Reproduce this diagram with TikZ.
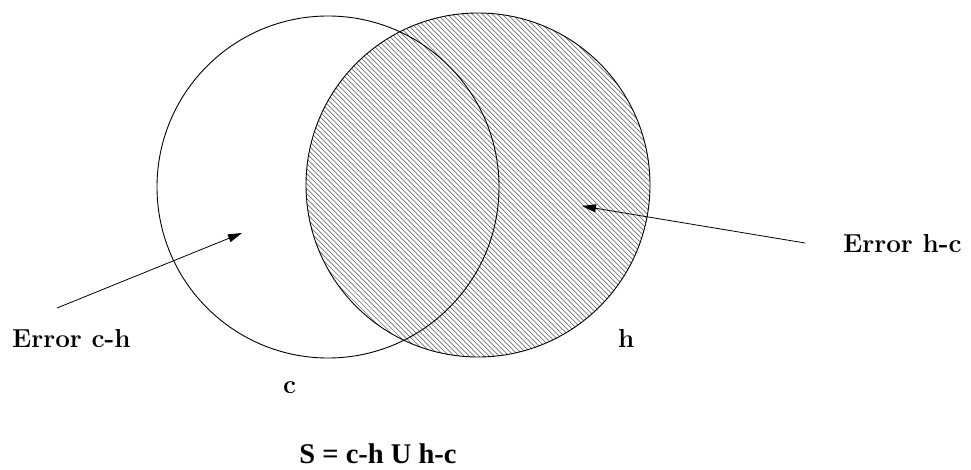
\documentclass[tikz,border=0pt]{standalone}
\usepackage{fontspec}
\newfontfamily\timesfam{Liberation Serif}
\usetikzlibrary{arrows.meta}
\begin{document}
\begin{tikzpicture}[x=1pt,y=-1pt,
  lbl/.style={font=\fontsize{26}{30}\selectfont\bfseries, inner sep=0pt, anchor=base west},
  formula/.style={font=\timesfam\fontsize{28.5}{32}\selectfont\bfseries, inner sep=0pt, anchor=base},
  setcirc/.style={circle, draw=black, line width=0.9pt, inner sep=0pt},
  hatch/.style={line width=0.7pt, black!55},
  pointer/.style={draw=black, line width=0.8pt, -{Triangle[length=14pt,width=8pt]}}]
\useasboundingbox (0,0) rectangle (971,470);
\fill[white] (0,0) rectangle (971,470);
% set h (hatched); path picture coordinates are relative to the node centre
\node[setcirc, minimum size=344pt,
  path picture={\foreach \i in {-470,-465,...,70} {\draw[hatch] (\i,-200) -- (\i+400,200);}}]
  (hset) at (478,185) {};
% set c (outline only)
\node[setcirc, minimum size=342pt] (cset) at (328,187) {};
% labels
\node[lbl] (errch) at (12,347) {Error c-h};
\node[lbl] (errhc) at (843,252) {Error h-c};
\node[lbl] (hlab) at (618,347) {h};
\node[lbl] (clab) at (283,393) {c};
\node[formula] (form) at (378,463) {S = c-h U h-c};
% pointers
\coordinate (tailL) at (57,308);
\coordinate (tipL) at (242,233);
\coordinate (tailR) at (805,243);
\coordinate (tipR) at (582,206);
\draw[pointer] (tailL) -- (tipL);
\draw[pointer] (tailR) -- (tipR);
\end{tikzpicture}
\end{document}
